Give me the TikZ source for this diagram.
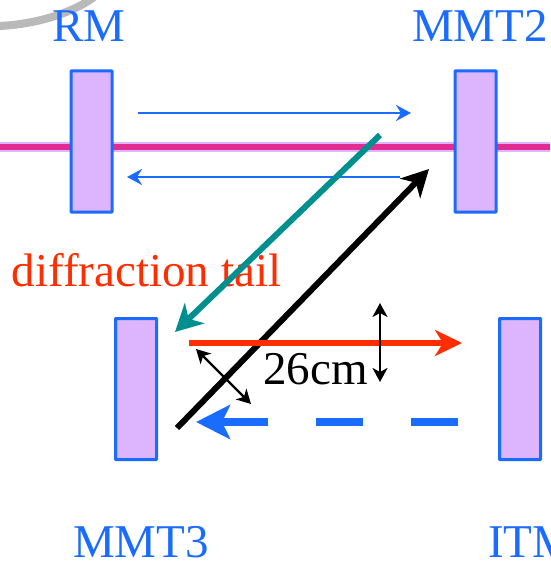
\documentclass[tikz,border=0pt]{standalone}
\usepackage{fontspec}
\setmainfont{Liberation Serif}
\usetikzlibrary{arrows.meta,positioning}
\definecolor{mirrorblue}{HTML}{1A6BFF}
\definecolor{mirrorfill}{HTML}{DDB5FF}
\definecolor{beampink}{HTML}{E32C92}
\definecolor{tailteal}{HTML}{008F8F}
\definecolor{beamred}{HTML}{FF2D00}
\definecolor{ringgray}{HTML}{B9B9B9}

\begin{document}
\begin{tikzpicture}[x=1pt, y=-1pt, node distance=384pt,
    mirror/.style={draw=mirrorblue, fill=mirrorfill, line width=3pt, rounded corners=0.5pt,
      minimum width=41pt, minimum height=141pt, inner sep=0pt, outer sep=0pt},
    bigtext/.style={font=\fontsize{47}{50}\selectfont, anchor=base, inner sep=0pt},
    thinbeam/.style={draw=mirrorblue, line width=2.6pt, -{Stealth[length=15pt, width=16pt, inset=5pt]}},
    sizearrow/.style={draw=black, line width=2.2pt, {Stealth[length=14pt, width=15pt, inset=4pt]}-{Stealth[length=14pt, width=15pt, inset=4pt]}}]
    \useasboundingbox (0,0) rectangle (550,561);
    % cavity axis
    \coordinate (west) at (0,147);
    \coordinate (east) at (550,147);
    \draw[mirrorfill, line width=10pt] (west) -- (east);
    \draw[beampink, line width=6pt] (west) -- (east);
    \draw[ringgray, line width=8pt] (-2,26) .. controls (30,25) and (70,15) .. (94,-3);
    % mirrors
    \node[mirror] (rm) at (91.5,141.5) {};
    \node[mirror] (mmt2) [right of=rm] {};
    \node[mirror] (mmt3) at (136,389) {};
    \node[mirror] (itm) [right of=mmt3] {};
    \node[bigtext, text=mirrorblue] (rmname) at (89,42) {RM};
    \node[bigtext, text=mirrorblue] (mmt2name) at (480,42) {MMT2};
    \node[bigtext, text=mirrorblue] (mmt3name) at (141,557) {MMT3};
    \node[bigtext, text=mirrorblue, anchor=base west] (itmname) at (488,557) {ITM};
    \node[bigtext, text=beamred] (tailname) at (146.5,286) {diffraction tail};
    \node[bigtext, text=black] (lengthname) at (315.5,384) {26cm};
    % beam ends
    \coordinate (a1) at (138,113);
    \coordinate (a2) at (411,113);
    \coordinate (b1) at (400,177);
    \coordinate (b2) at (127,177);
    \coordinate (c1) at (380,135);
    \coordinate (c2) at (175,332);
    \coordinate (d1) at (177,428);
    \coordinate (d2) at (429,169);
    \coordinate (e1) at (189,343);
    \coordinate (e2) at (462,343);
    \coordinate (f1) at (458,422);
    \coordinate (f2) at (196,422);
    \coordinate (g1) at (196,349);
    \coordinate (g2) at (251,404);
    \coordinate (h1) at (380,303);
    \coordinate (h2) at (380,382);
    \path
    (a1) edge[thinbeam] (a2)
    (b1) edge[thinbeam] (b2)
    (c1) edge[draw=tailteal, line width=6pt, -{Stealth[length=27pt, width=28pt, inset=8pt]}] (c2)
    (d1) edge[draw=black, line width=6pt, -{Stealth[length=27pt, width=28pt, inset=8pt]}] (d2)
    (e1) edge[draw=beamred, line width=6pt, -{Stealth[length=27pt, width=26pt, inset=8pt]}] (e2)
    (f1) edge[draw=mirrorblue, line width=8pt, dash pattern=on 47pt off 48pt, -{Stealth[length=34pt, width=34pt, inset=8pt]}] (f2)
    (g1) edge[sizearrow] (g2)
    (h1) edge[sizearrow] (h2);
  \end{tikzpicture}
\end{document}
